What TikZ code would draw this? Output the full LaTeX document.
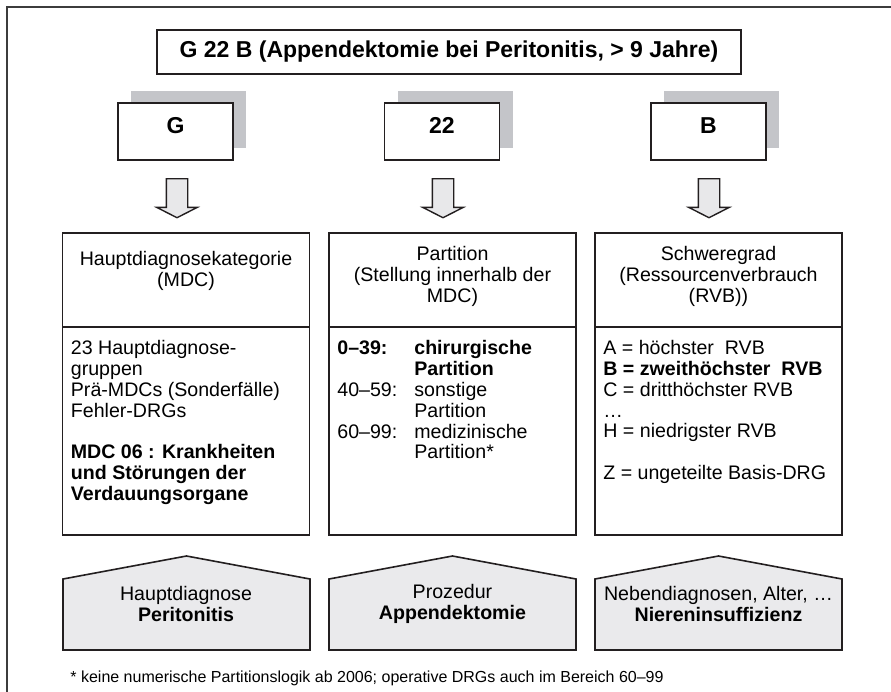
\documentclass[tikz,border=0pt]{standalone}
\usepackage{fontspec}
\setmainfont{Liberation Sans}
\usepackage{tikz}
\usetikzlibrary{shapes.arrows, shadows, positioning, calc}
\definecolor{cLine}{RGB}{35,31,32}
\definecolor{cFrame}{RGB}{60,60,60}
\definecolor{cShadow}{RGB}{196,197,201}
\definecolor{cArrow}{RGB}{232,232,234}
\definecolor{cHouse}{RGB}{234,234,236}
\tikzset{
	titlebox/.style  ={rectangle, draw=cLine, line width=0.8pt, minimum width=292pt, minimum height=22pt, font=\fontsize{11.5}{13}\selectfont\bfseries},
	codebox/.style   ={rectangle, draw=cLine, line width=0.8pt, fill=white, minimum width=57.5pt, minimum height=28.5pt, text depth=6pt, font=\fontsize{11.5}{13}\selectfont\bfseries, drop shadow={shadow xshift=6.5pt, shadow yshift=6pt, fill=cShadow, opacity=1}},
	blockarrow/.style={single arrow, draw=cLine, line width=0.7pt, fill=cArrow, shape border rotate=270, inner sep=5pt, minimum height=19.5pt, single arrow head extend=4.75pt, single arrow tip angle=126, anchor=tail},
	headbox/.style   ={rectangle, draw=cLine, line width=0.8pt, outer sep=0pt, minimum width=123.5pt, minimum height=47pt},
	bodybox/.style   ={rectangle, draw=cLine, line width=0.8pt, outer sep=0pt, minimum width=123.5pt, minimum height=104pt, anchor=north},
	headtxt/.style   ={anchor=north, align=center, inner sep=2pt},
	bodytxt/.style   ={anchor=north west, align=left, inner sep=2pt},
	house/.style     ={draw=cLine, line width=0.8pt, fill=cHouse, line join=miter},
	housetxt/.style  ={align=center, inner sep=1pt},
}
\begin{document}
\begin{tikzpicture}[x=0.5pt, y=-0.5pt, font=\fontsize{9.8}{10.4}\selectfont]
	\useasboundingbox (0,0) rectangle (891,692);
	% frame, only top and left visible
	\draw[cFrame, line width=1pt] (7,692) |- (891,7);

	\node[titlebox] (title) at (449,52) {G 22 B (Appendektomie bei Peritonitis, > 9 Jahre)};

	% code parts
	\node[codebox] (cG) at (175.5,131.5) {G};
	\node[codebox] (c22) at (442,131.5) {22};
	\node[codebox] (cB) at (708.5,131.5) {B};

	\node[blockarrow] (aG) at (177,178) {};
	\node[blockarrow] (a22) at (443,178) {};
	\node[blockarrow] (aB) at (709,178) {};

	% meaning of the parts
	\node[headbox] (hL) at (186,280) {};
	\node[headbox] (hM) at (452.5,280) {};
	\node[headbox] (hR) at (718.5,280) {};
	\node[bodybox] (bL) at (hL.south) {};
	\node[bodybox] (bM) at (hM.south) {};
	\node[bodybox] (bR) at (hR.south) {};

	\node[headtxt] (tL) at ($(hL.north)+(0,14)$) {Hauptdiagnosekategorie\\(MDC)};
	\node[headtxt] (tM) at ($(hM.north)+(0,9)$) {Partition\\(Stellung innerhalb der\\MDC)};
	\node[headtxt] (tR) at ($(hR.north)+(0,9)$) {Schweregrad\\(Ressourcenverbrauch\\(RVB))};

	\node[bodytxt] (uL) at ($(bL.north west)+(4,9)$) {23 Hauptdiagnose-\\gruppen\\Prä-MDCs (Sonderfälle)\\Fehler-DRGs\\[10.4pt]
		\textbf{MDC 06 : Krankheiten}\\\textbf{und Störungen der}\\\textbf{Verdauungsorgane}};
	\node[bodytxt] (uM) at ($(bM.north west)+(4,9)$) {\begin{tabular}{@{}p{38.5pt}@{}l@{}}
		\textbf{0–39:} & \textbf{chirurgische}\\
		 & \textbf{Partition}\\
		40–59: & sonstige\\
		 & Partition\\
		60–99: & medizinische\\
		 & Partition*
	\end{tabular}};
	\node[bodytxt] (uR) at ($(bR.north west)+(4,9)$) {A = höchster~ RVB\\\textbf{B = zweithöchster~ RVB}\\C = dritthöchster RVB\\…\\H = niedrigster RVB\\[10.4pt]
		Z = ungeteilte Basis-DRG};

	% source of the parts
	\draw[house] (63,650) -- ++(0,-71) -- ++(123.5,-23) -- ++(123.5,23) -- ++(0,71) -- cycle;
	\draw[house] (329,650) -- ++(0,-71) -- ++(123.5,-23) -- ++(123.5,23) -- ++(0,71) -- cycle;
	\draw[house] (595,650) -- ++(0,-71) -- ++(123.5,-23) -- ++(123.5,23) -- ++(0,71) -- cycle;
	\node[housetxt] (pL) at (186,604) {Hauptdiagnose\\\textbf{Peritonitis}};
	\node[housetxt] (pM) at (452.5,604) {Prozedur\\\textbf{Appendektomie}};
	\node[housetxt] (pR) at (718.5,604) {Nebendiagnosen, Alter, …\\\textbf{Niereninsuffizienz}};

	\node[anchor=west, inner sep=0pt, font=\fontsize{8}{9.6}\selectfont] (note) at (70,678) {* keine numerische Partitionslogik ab 2006; operative DRGs auch im Bereich 60–99};
\end{tikzpicture}
\end{document}
